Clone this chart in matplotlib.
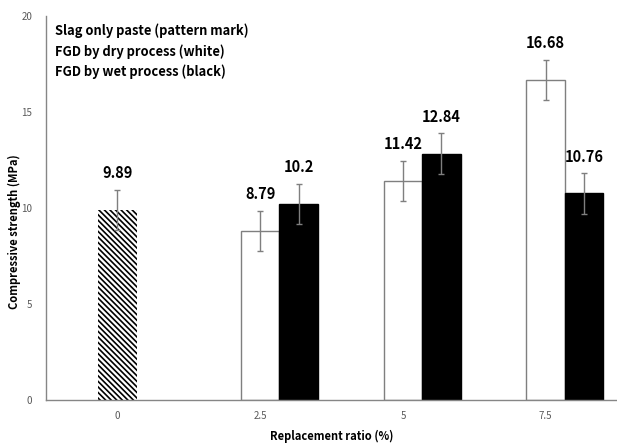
import numpy as np
import matplotlib.pyplot as plt

plt.rcParams['font.family'] = ['Noto Sans CJK KR', 'DejaVu Sans']
plt.rcParams['hatch.linewidth'] = 1.2

# Replacement ratio categories and compressive strength (MPa)
ratios = ['0', '2.5', '5', '7.5']
slag_only = [9.89]
fgd_dry = [8.79, 11.42, 16.68]
fgd_wet = [10.2, 12.84, 10.76]
err_slag = [1.05]
err_dry = [1.05, 1.05, 1.05]
err_wet = [1.05, 1.05, 1.05]

fig = plt.figure(figsize=(6.17, 4.45), dpi=100)
ax = fig.add_axes([0.0746, 0.101, 0.9254, 0.863])

w = 0.27
x = np.arange(len(ratios))
ecfg = dict(ecolor='#7f7f7f', elinewidth=1.0, capsize=2, capthick=1.0)

ax.bar(x[:1], slag_only, w, color='white', edgecolor='black', linewidth=0,
       hatch='\\' * 6, yerr=err_slag, error_kw=ecfg)
ax.bar(x[1:], fgd_dry, w, color='white', edgecolor='#7f7f7f', linewidth=1.0,
       yerr=err_dry, error_kw=ecfg)
ax.bar(x[1:] + w, fgd_wet, w, color='black', edgecolor='black', linewidth=1.0,
       yerr=err_wet, error_kw=ecfg)

# value labels above the error bars
lab = dict(ha='center', va='bottom', fontsize=10.5, fontweight='bold')
for xi, v, e in zip(x[:1], slag_only, err_slag):
    ax.text(xi, v + e + 0.45, f'{v:g}', **lab)
for xi, v, e in zip(x[1:], fgd_dry, err_dry):
    ax.text(xi, v + e + 0.45, f'{v:g}', **lab)
for xi, v, e in zip(x[1:] + w, fgd_wet, err_wet):
    ax.text(xi, v + e + 0.45, f'{v:g}', **lab)

ax.set_xlim(-0.5, 3.5)
ax.set_ylim(0, 20)
ax.set_xticks(x)
ax.set_xticklabels(ratios)
ax.set_yticks([0, 5, 10, 15, 20])
ax.tick_params(length=0, labelsize=7, colors='#595959', pad=8)
ax.tick_params(axis='y', pad=10)

for s in ['top', 'right']:
    ax.spines[s].set_visible(False)
for s in ['left', 'bottom']:
    ax.spines[s].set_color('#868686')
    ax.spines[s].set_linewidth(1.0)

ax.set_xlabel('Replacement ratio (%)', fontsize=8, fontweight='bold', labelpad=6)
fig.text(14 / 617, 1 - 232 / 445, 'Compressive strength (MPa)', fontsize=8,
         fontweight='bold', rotation=90, ha='center', va='center')

legend_lines = ['Slag only paste (pattern mark)',
                'FGD by dry process (white)',
                'FGD by wet process (black)']
for i, t in enumerate(legend_lines):
    fig.text(55 / 617, 1 - (31 + 20.5 * i) / 445, t, fontsize=9.3,
             fontweight='bold', va='center', ha='left')

fig.savefig('out.png', dpi=100)
